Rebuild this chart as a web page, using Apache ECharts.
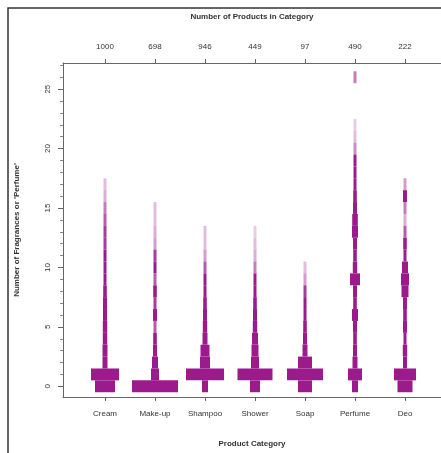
<!DOCTYPE html>
<html>
<head>
<meta charset="utf-8">
<script src="https://cdn.jsdelivr.net/npm/echarts@6/dist/echarts.min.js"></script>
<style>
  html, body { margin: 0; padding: 0; background: #fff; }
  #main { width: 441px; height: 453px; }
</style>
</head>
<body>
<div id="main"></div>
<script>
// categories and their product counts (top axis)
var categories = ['Cream', 'Make-up', 'Shampoo', 'Shower', 'Soap', 'Perfume', 'Deo'];
var productCounts = ['1000', '698', '946', '449', '97', '490', '222'];

// frequency of each value (index = number of fragrances, 0..26)
var cream   = [100, 140, 25, 25, 22, 22, 20, 20, 18, 15, 12, 12, 10, 10, 8, 6, 3, 2];
var makeup  = [230, 40, 30, 20, 18, 8, 20, 10, 18, 8, 15, 10, 4, 3, 2, 2];
var shampoo = [30, 190, 50, 45, 25, 22, 20, 18, 15, 12, 8, 4, 2, 2];
var shower  = [50, 175, 40, 35, 30, 22, 20, 18, 15, 12, 6, 3, 2, 1];
var soap    = [70, 180, 70, 25, 20, 18, 15, 15, 10, 4, 2];
var perfume = [30, 70, 25, 20, 18, 20, 30, 18, 20, 50, 22, 18, 20, 30, 28, 20, 18, 15, 14, 12, 5, 2, 1, 0, 0, 0, 6];
var deo     = [75, 110, 20, 22, 15, 20, 18, 20, 35, 40, 30, 15, 18, 8, 3, 6, 20, 4];

var yLabels = [0, 5, 10, 15, 20, 25];

var freqs = [cream, makeup, shampoo, shower, soap, perfume, deo];
var cells = [];
freqs.forEach(function (arr, i) {
  arr.forEach(function (n, v) {
    if (n > 0) cells.push([i, v, n]);
  });
});

var ticksY = [];
for (var t = 0; t <= 27; t++) ticksY.push(t);
var catIdx = categories.map(function (c, i) { return i; });

var chart = echarts.init(document.getElementById('main'));
var txt = { color: '#333', fontSize: 8, fontFamily: 'Liberation Sans, Arial, sans-serif' };

var option = {
  animation: false,
  graphic: [{
    type: 'rect',
    shape: { x: 8, y: 8, width: 460, height: 470 },
    style: { fill: 'none', stroke: '#333', lineWidth: 1.5 },
    silent: true
  }],
  grid: { left: 63, right: 0, top: 63, bottom: 51 },
  xAxis: [
    {
      type: 'value', position: 'bottom', min: -0.84, max: 6.72,
      name: 'Product Category', nameLocation: 'middle', nameGap: 43,
      nameTextStyle: Object.assign({ fontWeight: 'bold' }, txt),
      axisLine: { onZero: false, lineStyle: { color: '#666', width: 1 } },
      axisTick: { customValues: catIdx, length: 4, lineStyle: { color: '#666' } },
      axisLabel: Object.assign({
        customValues: catIdx, margin: 13,
        formatter: function (v) { return categories[Math.round(v)]; }
      }, txt),
      splitLine: { show: false }
    },
    {
      type: 'value', position: 'top', min: -0.84, max: 6.72,
      name: 'Number of Products in Category', nameLocation: 'middle', nameGap: 42,
      nameTextStyle: Object.assign({ fontWeight: 'bold' }, txt),
      axisLine: { onZero: false, lineStyle: { color: '#666', width: 1 } },
      axisTick: { customValues: catIdx, length: 4, lineStyle: { color: '#666' } },
      axisLabel: Object.assign({
        customValues: catIdx, margin: 12,
        formatter: function (v) { return productCounts[Math.round(v)]; }
      }, txt),
      splitLine: { show: false }
    }
  ],
  yAxis: [
    {
      type: 'value', min: -0.9, max: 27.2, position: 'left',
      name: "Number of Fragrances or 'Perfume'", nameLocation: 'middle', nameGap: 42,
      nameTextStyle: Object.assign({ fontWeight: 'bold' }, txt),
      axisLine: { show: true, onZero: false, lineStyle: { color: '#666', width: 1 } },
      axisTick: { show: true, customValues: ticksY, length: 3, lineStyle: { color: '#888' } },
      axisLabel: Object.assign({ customValues: yLabels, rotate: 90, margin: 11 }, txt),
      splitLine: { show: false }
    },
    {
      type: 'value', min: -0.9, max: 27.2, position: 'left',
      axisLine: { show: false, onZero: false },
      axisTick: { show: true, customValues: yLabels, length: 5, lineStyle: { color: '#666' } },
      axisLabel: { show: false },
      splitLine: { show: false }
    }
  ],
  series: [{
    type: 'custom',
    xAxisIndex: 0,
    yAxisIndex: 0,
    data: cells,
    renderItem: function (params, api) {
      var c = api.coord([api.value(0), api.value(1)]);
      var h = api.size([0, 1])[1];
      var n = api.value(2);
      var w = Math.max(3, n * 0.2);
      return {
        type: 'rect',
        shape: { x: c[0] - w / 2, y: c[1] - h / 2, width: w, height: h },
        style: { fill: '#9b1b8c', opacity: Math.min(1, 0.15 + n / 14) }
      };
    }
  }]
};

chart.setOption(option);
</script>
</body>
</html>
